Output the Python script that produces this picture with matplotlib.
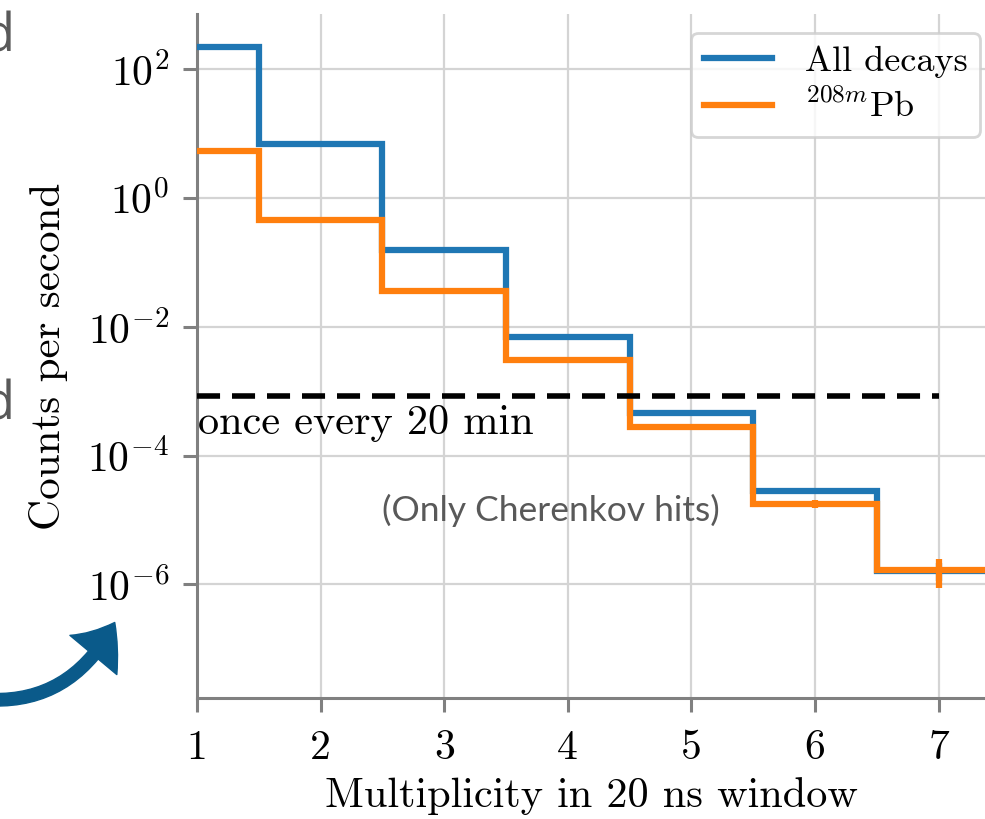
import numpy as np
import matplotlib
matplotlib.use("Agg")
import matplotlib.pyplot as plt
from matplotlib.patches import FancyArrowPatch

plt.rcParams['font.family'] = ['cmr10', 'DejaVu Serif']
plt.rcParams['mathtext.fontset'] = 'cm'
plt.rcParams['axes.formatter.use_mathtext'] = True

# ---- data ----
multiplicity = [1, 2, 3, 4, 5, 6, 7]
bin_edges = [0.5, 1.5, 2.5, 3.5, 4.5, 5.5, 6.5, 7.5]
all_decays = [224, 6.95, 0.158, 6.83e-3, 4.57e-4, 2.8e-5, 1.61e-6]
all_decays_err = [0.5, 0.08, 0.004, 2e-4, 2e-5, 2e-6, 5e-7]
pb208m = [5.47, 0.461, 0.0356, 3.09e-3, 2.75e-4, 1.78e-5, 1.69e-6]
pb208m_err = [0.05, 0.01, 1e-3, 1e-4, 1.5e-5, 2.5e-6, 8e-7]
threshold = 1.0 / 1200.0   # once every 20 min (per second)
xticks = [1, 2, 3, 4, 5, 6, 7]
yticks = [1e2, 1e0, 1e-2, 1e-4, 1e-6]

BLUE = '#1f77b4'
ORANGE = '#ff7f0e'
W, H = 985, 819
fig = plt.figure(figsize=(W / 100, H / 100), dpi=100)
ax = fig.add_axes([197 / W, 1 - 698 / H, 1 - 197 / W, (698 - 14) / H])

ax.stairs(all_decays, bin_edges, color=BLUE, lw=4.5, label='All decays', zorder=3)
ax.errorbar(multiplicity, all_decays, yerr=all_decays_err, fmt='none', ecolor=BLUE,
            elinewidth=4.5, zorder=3)
ax.stairs(pb208m, bin_edges, color=ORANGE, lw=4.5, label=r'$^{208m}\mathrm{Pb}$', zorder=4)
ax.errorbar(multiplicity, pb208m, yerr=pb208m_err, fmt='none', ecolor=ORANGE,
            elinewidth=4.5, zorder=4)

ax.hlines(threshold, xticks[0], xticks[-1], colors='black', lw=4.0,
          linestyles=(0, (4.15, 2.15)), zorder=5)
ax.text(1.005, threshold * 0.74, 'once every 20 min', fontsize=30.5, va='top', ha='left',
        zorder=6)

ax.set_yscale('log')
ax.set_xlim(1, 1 + (W - 197) / 123.6)
ax.set_ylim(10 ** -7.766, 10 ** 2.859)
ax.set_xticks(xticks)
ax.set_xticklabels([str(v) for v in xticks])
ax.set_yticks(yticks)
ax.yaxis.set_minor_locator(matplotlib.ticker.NullLocator())

ax.grid(True, which='major', color='#d4d4d4', lw=1.6)
ax.set_axisbelow(True)
for s in ['top', 'right']:
    ax.spines[s].set_visible(False)
for s in ['left', 'bottom']:
    ax.spines[s].set_color('#808080')
    ax.spines[s].set_linewidth(2.2)
ax.tick_params(axis='both', which='major', length=10, width=2.2, color='#808080',
               labelsize=30, pad=10)
ax.tick_params(axis='x', pad=13)

ax.set_xlabel('Multiplicity in 20 ns window', fontsize=30.5, labelpad=7)
ax.set_ylabel('Counts per second', fontsize=31, labelpad=14)

leg = ax.legend(loc='upper right', bbox_to_anchor=(980 / W, 1 - 33 / H),
                bbox_transform=fig.transFigure, fontsize=26, handlelength=1.9,
                borderaxespad=0, borderpad=0.35, handletextpad=0.9, labelspacing=0.3,
                framealpha=0.8, edgecolor='#cccccc', fancybox=True)
leg.get_frame().set_linewidth(2)

# slide annotation
fig.text(551 / W, 1 - 510 / H, '(Only Cherenkov hits)', fontsize=25.5, color='#595959',
         ha='center', va='center', family=['Lato', 'DejaVu Sans'])

# slide fragments outside the plot
fig.text(14 / W, 1 - 52 / H, 'd', fontsize=38, color='#595959', ha='right',
         va='baseline', family=['Open Sans', 'DejaVu Sans'])
fig.text(14 / W, 1 - 420 / H, 'd', fontsize=38, color='#595959', ha='right',
         va='baseline', family=['Open Sans', 'DejaVu Sans'])

arrow = FancyArrowPatch((-40, H - 696), (116, H - 620), transform=None,
                        connectionstyle='arc3,rad=0.38',
                        arrowstyle='simple,head_width=44,head_length=28,tail_width=9',
                        color='#0a5a8a', mutation_scale=1, zorder=10)
fig.patches.append(arrow)

fig.savefig('out.png', dpi=100)
